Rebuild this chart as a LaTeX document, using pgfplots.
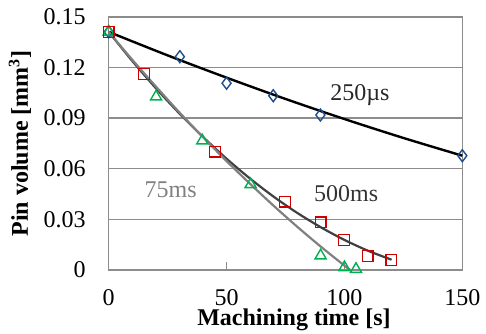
\documentclass[border=0pt]{standalone}
\usepackage{fontspec}
\setmainfont{Liberation Serif}
\usepackage{pgfplots}
\pgfplotsset{compat=1.18}
\definecolor{dblue}{HTML}{1F4E8C}
\definecolor{dred}{HTML}{CC0000}
\definecolor{dgreen}{HTML}{00B050}
\definecolor{gridgray}{HTML}{8C8C8C}
\begin{document}
\begin{tikzpicture}
\useasboundingbox (-54.35pt,-31.5pt) rectangle (188.65pt,135.0pt);
\begin{axis}[
  scale only axis, width=176.8pt, height=126.65pt,
  xmin=0, xmax=150, ymin=0, ymax=0.15,
  xtick={0,50,100,150}, ytick={0,0.03,0.06,0.09,0.12,0.15},
  yticklabels={0,0.03,0.06,0.09,0.12,0.15},
  xticklabels={0,50,100,150},
  ymajorgrids, grid style={gridgray, line width=0.8pt},
  axis line style={gridgray, line width=0.8pt},
  major tick length=4pt,
  xtick style={gridgray, line width=0.8pt},
  ytick style={draw=none},
  tick align=inside, xtick pos=bottom,
  font=\fontsize{12}{14}\selectfont,
  /pgf/number format/assume math mode=true,
  xticklabel style={inner sep=0pt, anchor=center, yshift=-13.8pt, font=\fontsize{12}{14}\selectfont},
  yticklabel style={inner sep=0pt, anchor=east, xshift=-11.35pt, font=\fontsize{12}{14}\selectfont},
  xlabel={\textbf{Machining time [s]}},
  ylabel={\textbf{Pin volume [mm\textsuperscript{3}]}},
  every axis x label/.style={at={(axis description cs:0.524,-0.198)}, anchor=center, inner sep=0pt, font=\fontsize{12}{14}\selectfont},
  every axis y label/.style={at={(axis description cs:-0.251,0.5)}, anchor=center, rotate=90, font=\fontsize{12}{14}\selectfont},
  clip=false,
]
% markers
\addplot[only marks, mark=diamond, mark size=3pt, mark options={draw=dblue, line width=0.7pt, fill=white}]
  coordinates {(0,0.141) (30.2,0.1263) (50,0.1106) (69.8,0.1032) (89.8,0.0918) (150,0.0677)};
\addplot[only marks, mark=triangle, mark size=3.2pt, mark options={draw=dgreen, line width=0.7pt, fill=white}]
  coordinates {(0,0.141) (20.1,0.1026) (39.7,0.0766) (60.2,0.0507) (89.9,0.0085) (100,0.0015) (104.9,0.0005)};
\addplot[only marks, mark=square, mark size=2.7pt, mark options={draw=dred, line width=0.7pt, fill=white}]
  coordinates {(0,0.141) (15,0.1161) (45.1,0.070) (74.8,0.0404) (89.9,0.0282) (99.8,0.0178) (109.9,0.0083) (119.9,0.0059)};
% trend lines
\addplot[black, line width=1.2pt, smooth, no marks]
  coordinates {(0,0.141) (25,0.1271) (50,0.1139) (75,0.1013) (100,0.0894) (125,0.0782) (150,0.0677)};
\addplot[color=black!75, line width=1.1pt, smooth, no marks]
  coordinates {(0,0.141) (10,0.1238) (20,0.1077) (30,0.0927) (40,0.0788) (50,0.0659) (60,0.0541) (70,0.0434) (80,0.0338) (90,0.0253) (100,0.0178) (110,0.0114) (120,0.0061)};
\addplot[color=black!50, line width=1.1pt, smooth, no marks]
  coordinates {(0,0.141) (10,0.1245) (20,0.1087) (30,0.0933) (40,0.0787) (50,0.0645) (60,0.0510) (70,0.0380) (80,0.0256) (90,0.0138) (100,0.0026) (102.4,0)};
\node[text=black!85, font=\fontsize{12}{14}\selectfont] at (axis cs:106.6,0.1036) {250µs};
\node[text=black!80, font=\fontsize{12}{14}\selectfont] at (axis cs:100.7,0.0454) {500ms};
\node[text=black!50, font=\fontsize{12}{14}\selectfont] at (axis cs:26.3,0.0474) {75ms};
\end{axis}
\end{tikzpicture}
\end{document}
